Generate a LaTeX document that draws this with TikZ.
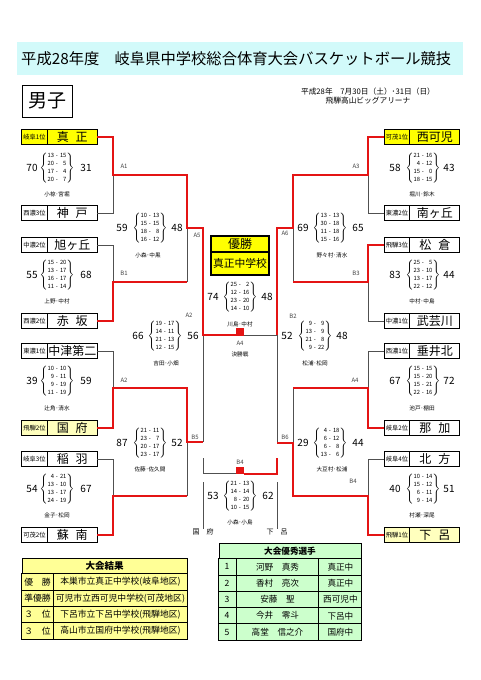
\documentclass[tikz,border=0pt]{standalone}
\usepackage{fontspec}
\setmainfont{Noto Sans CJK JP}
\usetikzlibrary{positioning}

\definecolor{winred}{RGB}{228,20,20}
\definecolor{losegray}{RGB}{80,80,80}
\definecolor{champyel}{RGB}{255,255,0}
\definecolor{paleyel}{RGB}{255,255,190}
\definecolor{titlecyan}{RGB}{210,250,250}
\definecolor{resyel}{RGB}{255,255,150}
\definecolor{mvpgreen}{RGB}{204,255,204}

\newcommand\qset[1]{$\left\{\vcenter{\hbox{\begin{tabular}{@{}r@{\hspace{2pt}-\hspace{2pt}}r@{}}#1\end{tabular}}}\right\}$}
\newcommand\tsp{\hspace{7pt}}

\tikzset{
  seed/.style={draw,line width=1.4pt,outer sep=0pt,inner sep=0pt,minimum width=25.5pt,minimum height=15.5pt,font=\fontsize{6.3}{7}\selectfont},
  team/.style={seed,minimum width=50pt,font=\fontsize{12}{13}\selectfont},
  pts/.style={inner sep=0pt,font=\fontsize{10}{11}\selectfont},
  qtr/.style={inner sep=0pt,font=\fontsize{5.8}{7.7}\selectfont},
  refs/.style={inner sep=0pt,font=\fontsize{5.6}{6}\selectfont},
  gm/.style={inner sep=0pt,text=black!75,font=\fontsize{6}{7}\selectfont},
  win/.style={draw=winred,line width=1.6pt},
  lose/.style={draw=losegray,line width=0.9pt},
  sq/.style={fill=winred,inner sep=0pt,minimum width=8pt,minimum height=8pt},
  champ/.style={draw,line width=1.4pt,fill=champyel,outer sep=0pt,inner sep=0pt,minimum width=58pt},
  tcell/.style={draw,line width=0.9pt,outer sep=0pt,inner sep=0pt,minimum height=16.4pt}
}

\begin{document}
\begin{tikzpicture}[x=1pt,y=-1pt]
\useasboundingbox (0,0) rectangle (481,680);

\fill[titlecyan] (17,42) rectangle (463,75);
\node[anchor=west,inner sep=0pt,font=\fontsize{15.3}{16}\selectfont] (ttl) at (21,58.5) {平成28年度　岐阜県中学校総合体育大会バスケットボール競技};
\node[draw,line width=0.8pt,minimum width=50pt,minimum height=32pt,font=\fontsize{19}{20}\selectfont] (sex) at (47,101) {男子};
\node[align=center,inner sep=0pt,font=\fontsize{7.7}{9}\selectfont] (date) at (368,96) {平成28年　7月30日（土）･31日（日）\\飛騨高山ビッグアリーナ};

% teams
\node[seed,fill=champyel] (ls1) at (34.5,137) {岐阜1位};
\node[team,fill=champyel,right=0pt of ls1] (lt1) {真\tsp 正};
\node[seed] (ls2) at (34.5,213) {西濃3位};
\node[team,right=0pt of ls2] (lt2) {神\tsp 戸};
\node[seed] (ls3) at (34.5,245) {中濃2位};
\node[team,right=0pt of ls3] (lt3) {旭ヶ丘};
\node[seed] (ls4) at (34.5,321) {西濃2位};
\node[team,right=0pt of ls4] (lt4) {赤\tsp 坂};
\node[seed] (ls5) at (34.5,351) {東濃1位};
\node[team,right=0pt of ls5] (lt5) {中津第二};
\node[seed,fill=paleyel] (ls6) at (34.5,428) {飛騨2位};
\node[team,fill=paleyel,right=0pt of ls6] (lt6) {国\tsp 府};
\node[seed] (ls7) at (34.5,459) {岐阜3位};
\node[team,right=0pt of ls7] (lt7) {稲\tsp 羽};
\node[seed] (ls8) at (34.5,535) {可茂2位};
\node[team,right=0pt of ls8] (lt8) {蘇\tsp 南};

\node[seed,fill=champyel] (rs1) at (397,137) {可茂1位};
\node[team,fill=champyel,right=0pt of rs1] (rt1) {西可児};
\node[seed] (rs2) at (397,213) {東濃2位};
\node[team,right=0pt of rs2] (rt2) {南ヶ丘};
\node[seed] (rs3) at (397,245) {飛騨3位};
\node[team,right=0pt of rs3] (rt3) {松\tsp 倉};
\node[seed] (rs4) at (397,321) {中濃1位};
\node[team,right=0pt of rs4] (rt4) {武芸川};
\node[seed] (rs5) at (397,351) {西濃1位};
\node[team,right=0pt of rs5] (rt5) {垂井北};
\node[seed] (rs6) at (397,428) {岐阜2位};
\node[team,right=0pt of rs6] (rt6) {那\tsp 加};
\node[seed] (rs7) at (397,459) {岐阜4位};
\node[team,right=0pt of rs7] (rt7) {北\tsp 方};
\node[seed,fill=paleyel] (rs8) at (397,535) {飛騨1位};
\node[team,fill=paleyel,right=0pt of rs8] (rt8) {下\tsp 呂};

\node[champ,minimum height=16pt,font=\fontsize{12}{13}\selectfont] (chp) at (240,244) {優勝};
\node[champ,minimum height=23pt,below=0pt of chp,font=\fontsize{10.8}{12}\selectfont] (chn) {真正中学校};

% junctions
\coordinate (lj1) at (113,175); \coordinate (lj2) at (113,282);
\coordinate (lj3) at (113,388); \coordinate (lj4) at (113,496);
\coordinate (lk1) at (187,175); \coordinate (lk2) at (187,282);
\coordinate (lk3) at (187,388); \coordinate (lk4) at (187,496);
\coordinate (lm1) at (203,228); \coordinate (lm2) at (203,442);
\coordinate (lf) at (203,335);
\coordinate (rj1) at (368,175); \coordinate (rj2) at (368,282);
\coordinate (rj3) at (368,388); \coordinate (rj4) at (368,496);
\coordinate (rk1) at (293,175); \coordinate (rk2) at (293,282);
\coordinate (rk3) at (293,388); \coordinate (rk4) at (293,496);
\coordinate (rm1) at (277,228); \coordinate (rm2) at (277,443);
\coordinate (rf) at (277,335);
\coordinate (tl) at (203,458); \coordinate (tr) at (277,458);
\coordinate (bl0) at (203,482); \coordinate (br0) at (277,482);

\node[sq] (fsq) at (240,331.5) {};
\node[sq,minimum height=7pt] (bsq) at (240,470) {};
\node[refs,font=\fontsize{7}{8}\selectfont] (bkl) at (203,532) {国　府};
\node[refs,font=\fontsize{7}{8}\selectfont] (bkr) at (277,532) {下　呂};

\draw[lose] (lt2.east) -| (lj1);
\draw[lose] (lt3.east) -| (lj2);
\draw[lose] (lk2) -- (lk1 |- lm1);
\draw[lose] (lt5.east) -| (lj3);
\draw[lose] (lt7.east) -| (lj4);
\draw[lose] (lk4) -- (lk3 |- lm2);
\draw[lose] (lf) -- (lm2);
\draw[lose] (rs2.west) -| (rj1);
\draw[lose] (rs4.west) -| (rj2);
\draw[lose] (rk2) -- (rk1 |- rm1);
\draw[lose] (rs5.west) -| (rj3);
\draw[lose] (rk3) -- (rk3 |- rm2);
\draw[lose] (rs7.west) -| (rj4);
\draw[lose] (rf) -- (rm2);
\draw[lose] (fsq.east |- rf) -- (rf);
\draw[lose] (tl) |- (bsq.south west);
\draw[lose] (bl0) -- (bkl.north);
\draw[lose] (br0) -- (bkr.north);

\draw[win] (lt1.east) -| (lj1) -- (lk1) |- (lm1) -- (lf) -- (lf -| fsq.west);
\draw[win] (lt4.east) -| (lj2) -- (lk2);
\draw[win] (lt6.east) -| (lj3) -- (lk3) |- (lm2);
\draw[win] (lt8.east) -| (lj4) -- (lk4);
\draw[win] (rs1.west) -| (rj1) -- (rk1) |- (rm1) -- (rf);
\draw[win] (rs3.west) -| (rj2) -- (rk2);
\draw[win] (rs6.west) -| (rj3) -- (rk3);
\draw[win] (rs8.west) -| (rj4) -- (rk4) |- (rm2);
\draw[win] (bsq.south east) -| (tr);

% scores
\node[pts] (p1a) at (32,168) {70};
\node[qtr] (p1q) at (57,168) {\qset{13&15\\20&5\\17&4\\20&7}};
\node[pts] (p1b) at (86,168) {31};
\node[refs] (p1r) at (57,194) {小椋･宮堀};
\node[pts] (p2a) at (32,275) {55};
\node[qtr] (p2q) at (57,275) {\qset{15&20\\13&17\\16&17\\11&14}};
\node[pts] (p2b) at (86,275) {68};
\node[refs] (p2r) at (57,301) {上野･中村};
\node[pts] (p3a) at (32,381) {39};
\node[qtr] (p3q) at (57,381) {\qset{10&10\\9&11\\9&19\\11&19}};
\node[pts] (p3b) at (86,381) {59};
\node[refs] (p3r) at (57,408) {辻角･清水};
\node[pts] (p4a) at (32,489) {54};
\node[qtr] (p4q) at (57,489) {\qset{4&21\\13&10\\13&17\\24&19}};
\node[pts] (p4b) at (86,489) {67};
\node[refs] (p4r) at (57,515) {金子･松岡};
\node[pts] (p5a) at (122,228) {59};
\node[qtr] (p5q) at (150,228) {\qset{10&13\\15&15\\18&8\\16&12}};
\node[pts] (p5b) at (177,228) {48};
\node[refs] (p5r) at (148,255) {小森･中黒};
\node[pts] (p6a) at (122,443) {87};
\node[qtr] (p6q) at (150,443) {\qset{21&11\\23&7\\20&17\\23&17}};
\node[pts] (p6b) at (177,443) {52};
\node[refs] (p6r) at (150,469) {佐藤･佐久間};
\node[pts] (p7a) at (138,336) {66};
\node[qtr] (p7q) at (165,336) {\qset{19&17\\14&11\\21&13\\12&15}};
\node[pts] (p7b) at (193,336) {56};
\node[refs] (p7r) at (166,363) {吉田･小畑};

\node[pts] (q1a) at (395,168) {58};
\node[qtr] (q1q) at (423,168) {\qset{21&16\\4&12\\15&0\\18&15}};
\node[pts] (q1b) at (449,168) {43};
\node[refs] (q1r) at (422,194) {堀川･鈴木};
\node[pts] (q2a) at (395,275) {83};
\node[qtr] (q2q) at (423,275) {\qset{25&5\\23&10\\13&17\\22&12}};
\node[pts] (q2b) at (449,275) {44};
\node[refs] (q2r) at (422,301) {中村･中島};
\node[pts] (q3a) at (395,381) {67};
\node[qtr] (q3q) at (423,381) {\qset{15&15\\15&20\\15&21\\22&16}};
\node[pts] (q3b) at (449,381) {72};
\node[refs] (q3r) at (422,408) {池戸･棚田};
\node[pts] (q4a) at (395,489) {40};
\node[qtr] (q4q) at (423,489) {\qset{10&14\\15&12\\6&11\\9&14}};
\node[pts] (q4b) at (449,489) {51};
\node[refs] (q4r) at (422,515) {村瀬･深尾};
\node[pts] (q5a) at (303,228) {69};
\node[qtr] (q5q) at (330,228) {\qset{13&13\\30&18\\11&18\\15&16}};
\node[pts] (q5b) at (358,228) {65};
\node[refs] (q5r) at (332,255) {野々村･清水};
\node[pts] (q6a) at (303,443) {29};
\node[qtr] (q6q) at (330,443) {\qset{4&18\\6&12\\6&8\\13&6}};
\node[pts] (q6b) at (358,443) {44};
\node[refs] (q6r) at (332,469) {大豆村･松浦};
\node[pts] (q7a) at (287,336) {52};
\node[qtr] (q7q) at (315,336) {\qset{9&9\\13&9\\21&8\\9&22}};
\node[pts] (q7b) at (342,336) {48};
\node[refs] (q7r) at (315,363) {松浦･松岡};

\node[pts] (fa) at (213,297) {74};
\node[qtr] (fq) at (240,297) {\qset{25&2\\12&16\\23&20\\14&10}};
\node[pts] (fb) at (267,297) {48};
\node[refs] (fr) at (240,324) {川島･中村};
\node[refs] (fname) at (240,354) {決勝戦};
\node[pts] (ba) at (213,496) {53};
\node[qtr] (bq) at (240,496) {\qset{21&13\\14&14\\8&20\\10&15}};
\node[pts] (bb) at (268,496) {62};
\node[refs] (br) at (240,522) {小森･小島};

% game numbers
\node[gm] (g1) at (124,166) {A1};
\node[gm] (g2) at (124,273) {B1};
\node[gm] (g3) at (124,380) {A2};
\node[gm] (g4) at (197,235) {A5};
\node[gm] (g5) at (195,437) {B5};
\node[gm] (g6) at (189,315) {A2};
\node[gm] (g7) at (356,166) {A3};
\node[gm] (g8) at (356,273) {B3};
\node[gm] (g9) at (355,380) {A4};
\node[gm] (g10) at (353,481) {B4};
\node[gm] (g11) at (285,233) {A6};
\node[gm] (g12) at (285,437) {B6};
\node[gm] (g13) at (293,316) {B2};
\node[gm] (g14) at (240,343) {A4};
\node[gm] (g15) at (240,462) {B4};

% tables
\node[tcell,fill=resyel,minimum width=165pt,minimum height=16pt,font=\bfseries\fontsize{9.5}{10}\selectfont] (reshd) at (104.5,566) {大会結果};
\matrix[below=-1pt of reshd,column sep=-1pt,row sep=-1pt,inner sep=0pt,nodes={tcell,fill=resyel,font=\fontsize{8.8}{9}\selectfont}] (resmat) {
\node[minimum width=32pt] (r11) {優　勝}; & \node[minimum width=134pt] (r12) {本巣市立真正中学校(岐阜地区)}; \\
\node[minimum width=32pt] (r21) {準優勝}; & \node[minimum width=134pt] (r22) {可児市立西可児中学校(可茂地区)}; \\
\node[minimum width=32pt] (r31) {３　位}; & \node[minimum width=134pt] (r32) {下呂市立下呂中学校(飛騨地区)}; \\
\node[minimum width=32pt] (r41) {３　位}; & \node[minimum width=134pt] (r42) {高山市立国府中学校(飛騨地区)}; \\
};

\node[tcell,fill=mvpgreen,minimum width=142pt,minimum height=16pt,font=\bfseries\fontsize{8.6}{9}\selectfont] (mvphd) at (290,551) {大会優秀選手};
\matrix[below=-1pt of mvphd,column sep=-1pt,row sep=-1pt,inner sep=0pt,nodes={tcell,fill=mvpgreen,font=\fontsize{8.6}{9}\selectfont}] (mvpmat) {
\node[minimum width=18pt] (m11) {1}; & \node[minimum width=83pt] (m12) {河野　真秀}; & \node[minimum width=43pt] (m13) {真正中}; \\
\node[minimum width=18pt] (m21) {2}; & \node[minimum width=83pt] (m22) {香村　亮次}; & \node[minimum width=43pt] (m23) {真正中}; \\
\node[minimum width=18pt] (m31) {3}; & \node[minimum width=83pt] (m32) {安藤　聖}; & \node[minimum width=43pt] (m33) {西可児中}; \\
\node[minimum width=18pt] (m41) {4}; & \node[minimum width=83pt] (m42) {今井　零斗}; & \node[minimum width=43pt] (m43) {下呂中}; \\
\node[minimum width=18pt] (m51) {5}; & \node[minimum width=83pt] (m52) {高堂　信之介}; & \node[minimum width=43pt] (m53) {国府中}; \\
};

\end{tikzpicture}
\end{document}
